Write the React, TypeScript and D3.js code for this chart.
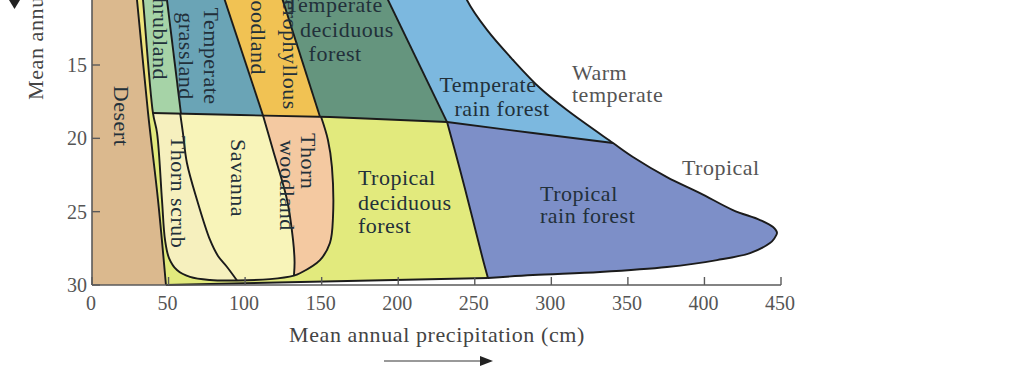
import React from "react";
import * as d3 from "d3";

const W = 1024;
const H = 384;

// Axis ticks
const precipTicks = [0, 50, 100, 150, 200, 250, 300, 350, 400, 450];
const tempTicks = [15, 20, 25, 30];

// Biome boundaries, as [precipitation (cm), temperature (°C)]
const desertEdge = [[28.7, 10], [29.4, 10.57], [36.6, 18.27], [43.1, 24.2], [48.3, 30]];
const desertTop = [[28.7, 10], [29.4, 10.57], [36.6, 18.27]];
const desertLow = [[36.6, 18.27], [43.1, 24.2], [48.3, 30]];
const stripEdge = [[32.7, 10], [33.3, 10.57], [39.8, 18.27]];
const boxLeft = [[39.8, 18.27], [42.5, 19.64], [45.7, 24.2], [47.7, 26.93], [50.3, 28.16], [55.5, 28.98], [64.0, 29.45], [77.1, 29.66], [94.7, 29.69]];
const boxBottom = [[94.7, 29.69], [116.3, 29.6], [131.9, 29.36]];
const boxRight = [[131.9, 29.36], [135.8, 29.2], [148.9, 28.3], [155.4, 27.14], [157.4, 25.36], [156.7, 21.95], [154.1, 20.11], [149.6, 18.53]];
const zoneDivide = [[39.8, 18.27], [96.7, 18.41], [155.4, 18.55], [231.9, 18.89]];
const rainDivide = [[231.9, 18.89], [288.0, 19.64], [340.3, 20.32]];
const shrubGrass = [[48.3, 10], [58.1, 18.31]];
const grassScler = [[84.9, 10], [111.7, 18.44]];
const sclerDecid = [[122.8, 10], [148.9, 18.53]];
const decidRain = [[190.7, 10], [231.9, 18.89]];
const outerTop = [[243.0, 10], [244.9, 10.57], [258.0, 12.61], [275.0, 14.66], [292.6, 16.57], [310.2, 18.07], [340.3, 20.32]];
const outerLow = [[340.3, 20.32], [353.3, 21.27], [375.5, 22.64], [397.1, 23.73], [418.6, 24.89], [436.3, 25.57], [444.8, 26.05], [447.4, 26.45], [445.4, 26.86], [442.8, 27.14], [429.8, 27.82], [408.2, 28.3], [375.5, 28.77], [331.8, 29.11], [288.0, 29.32], [258.6, 29.52]];
const rainLeft = [[231.9, 18.89], [240.4, 22.16], [248.8, 25.57], [255.4, 28.3], [258.6, 29.52]];
const tropBase = [[48.3, 30], [258.6, 29.52]];
const scrubSavanna = [[57.6, 18.31], [59.4, 19.64], [62.0, 21.68], [68.6, 24.2], [77.1, 26.93], [82.3, 28.02], [88.2, 28.77], [94.7, 29.69]];
const savannaThorn = [[111.7, 18.44], [118.2, 20.8], [127.4, 24.2], [131.3, 26.93], [132.3, 28.43], [131.9, 29.36]];
const plotCorners = [[0, 10], [0, 30]];

const xs = d3.scaleLinear().domain([0, 450]).range([92, 781]);
const ys = d3.scaleLinear().domain([15, 30]).range([65, 285]);

const smoothGen = d3
  .line<number[]>()
  .x((d) => xs(d[0]))
  .y((d) => ys(d[1]))
  .curve(d3.curveCatmullRom.alpha(0.5));

type Seg = { pts: number[][]; smooth?: boolean; rev?: boolean };

function buildPath(segs: Seg[], close: boolean): string {
  let d = "";
  segs.forEach((s, i) => {
    const pts = s.rev ? [...s.pts].reverse() : s.pts;
    if (s.smooth && pts.length > 1) {
      const g = smoothGen(pts) as string;
      d += i === 0 ? g : "L" + g.slice(1);
    } else {
      pts.forEach((p, j) => {
        d += (i === 0 && j === 0 ? "M" : "L") + xs(p[0]) + "," + ys(p[1]);
      });
    }
  });
  return close ? d + "Z" : d;
}

const C = (pts: number[][], rev = false): Seg => ({ pts, smooth: true, rev });
const S = (pts: number[][], rev = false): Seg => ({ pts, smooth: false, rev });

const colors = {
  desert: "#dbb98e",
  strip: "#efe47c",
  shrub: "#a6d3a7",
  grass: "#6aa4b6",
  scler: "#f1c253",
  tempDec: "#65957e",
  tempRain: "#7cb8df",
  tropRain: "#7d8fc8",
  tropDec: "#e2ea7d",
  savanna: "#f8f4b9",
  scrub: "#f6f0be",
  thornWood: "#f4c9a1",
};

const regions = [
  { key: "desert", fill: colors.desert, d: buildPath([S([plotCorners[0]]), C(desertEdge), S([plotCorners[1]])], true) },
  { key: "strip", fill: colors.strip, d: buildPath([C(desertTop), C(stripEdge, true)], true) },
  { key: "tropDec", fill: colors.tropDec, d: buildPath([C(desertLow), S(tropBase), C(rainLeft, true), S(zoneDivide, true)], true) },
  { key: "shrub", fill: colors.shrub, d: buildPath([C(stripEdge), S(shrubGrass, true)], true) },
  { key: "grass", fill: colors.grass, d: buildPath([S(shrubGrass), S(grassScler, true)], true) },
  { key: "scler", fill: colors.scler, d: buildPath([S(grassScler), S(sclerDecid, true)], true) },
  { key: "tempDec", fill: colors.tempDec, d: buildPath([S(sclerDecid), S(decidRain, true)], true) },
  { key: "tempRain", fill: colors.tempRain, d: buildPath([S(decidRain), S(rainDivide), C(outerTop, true)], true) },
  { key: "tropRain", fill: colors.tropRain, d: buildPath([S(rainDivide), C(outerLow), C(rainLeft, true)], true) },
  { key: "savanna", fill: colors.savanna, d: buildPath([C(boxLeft), C(boxBottom), C(boxRight)], true) },
  { key: "scrub", fill: colors.scrub, d: buildPath([C(boxLeft), C(scrubSavanna, true)], true) },
  { key: "thornWood", fill: colors.thornWood, d: buildPath([C(savannaThorn), C(boxRight)], true) },
];

const strokes = [
  buildPath([C(desertEdge)], false),
  buildPath([C(stripEdge.concat(boxLeft.slice(1), boxBottom.slice(1), boxRight.slice(1)))], false),
  buildPath([S(zoneDivide), S(rainDivide.slice(1))], false),
  buildPath([S(shrubGrass)], false),
  buildPath([S(grassScler)], false),
  buildPath([S(sclerDecid)], false),
  buildPath([S(decidRain)], false),
  buildPath([C(outerTop.concat(outerLow.slice(1)))], false),
  buildPath([C(rainLeft)], false),
  buildPath([S(tropBase)], false),
  buildPath([C(scrubSavanna)], false),
  buildPath([C(savannaThorn)], false),
];

const FS = 22;
const LS = 0.5;

// Horizontal region labels: anchor [precip, temp] of baseline
const labelsH = [
  { text: "Temperate", p: 158.2, t: 11.39, anchor: "middle" },
  { text: "deciduous", p: 166.5, t: 13.09, anchor: "middle" },
  { text: "forest", p: 158.8, t: 14.73, anchor: "middle" },
  { text: "Temperate", p: 258.6, t: 16.84, anchor: "middle" },
  { text: "rain forest", p: 267.8, t: 18.5, anchor: "middle" },
  { text: "Tropical", p: 173.7, t: 23.18, anchor: "start" },
  { text: "deciduous", p: 173.7, t: 24.89, anchor: "start" },
  { text: "forest", p: 173.7, t: 26.45, anchor: "start" },
  { text: "Tropical", p: 292.6, t: 24.25, anchor: "start" },
  { text: "rain forest", p: 292.6, t: 25.77, anchor: "start" },
];
const labelsGray = [
  { text: "Warm", p: 313.5, t: 16.02, anchor: "start" },
  { text: "temperate", p: 313.5, t: 17.52, anchor: "start" },
  { text: "Tropical", p: 385.3, t: 22.5, anchor: "start" },
];
// Rotated 90° labels: centre line of glyph body
const labelsV = [
  { text: "Desert", p: 19.3, t: 18.48, anchor: "middle" },
  { text: "Shrubland", p: 44.6, t: 16.02, anchor: "end" },
  { text: "Temperate", p: 77.7, t: 14.39, anchor: "middle" },
  { text: "grassland", p: 61.4, t: 14.39, anchor: "middle" },
  { text: "Sclerophyllous", p: 129.3, t: 18.05, anchor: "end" },
  { text: "woodland", p: 108.4, t: 15.68, anchor: "end" },
  { text: "Thorn scrub", p: 56.6, t: 23.66, anchor: "middle" },
  { text: "Savanna", p: 95.4, t: 22.7, anchor: "middle" },
  { text: "Thorn", p: 141.1, t: 19.64, anchor: "start" },
  { text: "woodland", p: 127.4, t: 20.11, anchor: "start" },
];

const serif = "'Liberation Serif', 'Times New Roman', serif";

export default function App() {
  return (
    <svg
      width={W}
      height={H}
      viewBox={`0 0 ${W} ${H}`}
      style={{ position: "absolute", left: 0, top: 0, display: "block", background: "#ffffff" }}
    >
      <rect x={0} y={0} width={W} height={H} fill="#ffffff" />
      {regions.map((r) => (
        <path key={r.key} d={r.d} fill={r.fill} stroke="none" />
      ))}
      {strokes.map((d, i) => (
        <path key={i} d={d} fill="none" stroke="#1b1b1b" strokeWidth={1.9} strokeLinejoin="round" />
      ))}

      {/* axes */}
      <line x1={xs(0)} x2={xs(0)} y1={0} y2={ys(30)} stroke="#5a5a5a" strokeWidth={1.6} />
      <line x1={xs(0)} x2={xs(450)} y1={ys(30)} y2={ys(30)} stroke="#5a5a5a" strokeWidth={1.6} />
      {precipTicks.map((v) => (
        <g key={"x" + v}>
          <line x1={xs(v)} x2={xs(v)} y1={ys(30)} y2={ys(30) - 8} stroke="#5a5a5a" strokeWidth={1.4} />
          <text x={xs(v) - 1} y={ys(30) + 25} textAnchor="middle" fontFamily={serif} fontSize={20} fill="#555">
            {v}
          </text>
        </g>
      ))}
      {tempTicks.map((v) => (
        <g key={"y" + v}>
          <line x1={xs(0)} x2={xs(0) + 8} y1={ys(v)} y2={ys(v)} stroke="#5a5a5a" strokeWidth={1.4} />
          <text x={xs(0) - 5} y={ys(v) + 7} textAnchor="end" fontFamily={serif} fontSize={20} fill="#555">
            {v}
          </text>
        </g>
      ))}
      <text x={437} y={342} textAnchor="middle" fontFamily={serif} fontSize={22} letterSpacing={0.6} fill="#444">
        Mean annual precipitation (cm)
      </text>
      <line x1={384} x2={482} y1={361} y2={361} stroke="#777" strokeWidth={1.6} />
      <path d="M480,356 L493,361 L480,366 Z" fill="#222" />
      <text transform="translate(43,100) rotate(-90)" textAnchor="start" fontFamily={serif} fontSize={22} letterSpacing={0.6} fill="#444">
        Mean annual temperature (°C)
      </text>
      <path d="M9,0 L20,0 L14.5,9 Z" fill="#222" />

      {labelsH.map((l, i) => (
        <text key={"h" + i} x={xs(l.p)} y={ys(l.t)} textAnchor={l.anchor} fontFamily={serif} fontSize={FS} letterSpacing={LS} fill="#22303a">
          {l.text}
        </text>
      ))}
      {labelsGray.map((l, i) => (
        <text key={"g" + i} x={xs(l.p)} y={ys(l.t)} textAnchor={l.anchor} fontFamily={serif} fontSize={FS} letterSpacing={LS} fill="#555">
          {l.text}
        </text>
      ))}
      {labelsV.map((l, i) => (
        <text
          key={"v" + i}
          transform={`translate(${xs(l.p)},${ys(l.t)}) rotate(90)`}
          dy="0.33em"
          textAnchor={l.anchor}
          fontFamily={serif}
          fontSize={FS}
          letterSpacing={LS}
          fill="#22303a"
        >
          {l.text}
        </text>
      ))}
    </svg>
  );
}
